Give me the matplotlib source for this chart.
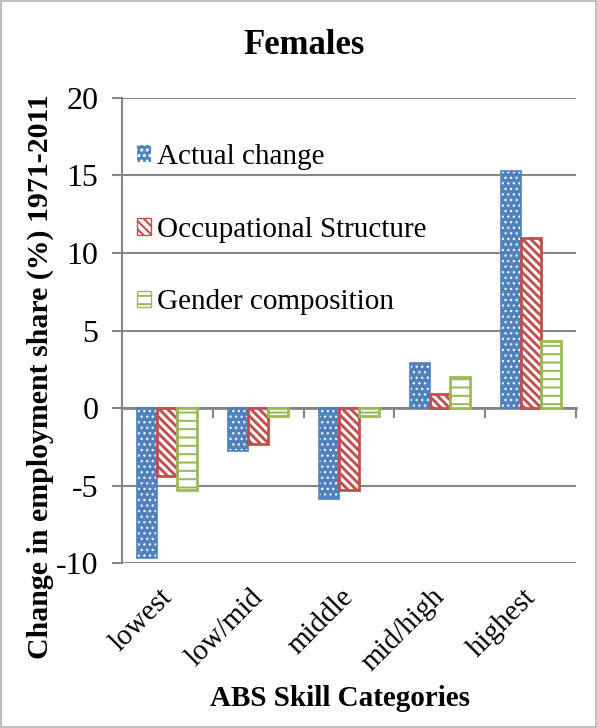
import numpy as np
import matplotlib
matplotlib.use("Agg")
import matplotlib.pyplot as plt
from matplotlib.patches import Patch
from matplotlib.transforms import ScaledTranslation

# ------------------------------------------------------------------ #
#  Data
# ------------------------------------------------------------------ #
categories = ["lowest", "low/mid", "middle", "mid/high", "highest"]
actual_change = [-9.7, -2.8, -5.9, 2.9, 15.3]
occupational_structure = [-4.4, -2.3, -5.3, 0.9, 11.0]
gender_composition = [-5.3, -0.5, -0.5, 2.0, 4.3]
series_names = ["Actual change", "Occupational Structure", "Gender composition"]
y_ticks = [-10, -5, 0, 5, 10, 15, 20]

BLUE = "#4F81BD"
RED = "#C0504D"
GREEN = "#9BBB59"
GRID = "#868686"

plt.rcParams["font.family"] = ["Liberation Serif", "DejaVu Serif"]

fig = plt.figure(figsize=(5.97, 7.28), dpi=100)
fig.patch.set_edgecolor("#BFBFBF")
fig.patch.set_linewidth(1.5)
ax = fig.add_axes([0.2044, 0.2266, 0.7606, 0.6388])

x = np.arange(len(categories))
w = 0.22

# blue: small white dots on blue
plt.rcParams["hatch.linewidth"] = 0.9
ax.bar(x - w, actual_change, w, color=BLUE, edgecolor="white", hatch="...",
       linewidth=0, zorder=3)
blue_handle = Patch(facecolor=BLUE, edgecolor="white", hatch="...", linewidth=0)
ax.bar(x - w, actual_change, w, fill=False, edgecolor=BLUE, linewidth=1.2, zorder=4)

# red: thick diagonal stripes
plt.rcParams["hatch.linewidth"] = 2.1
ax.bar(x, occupational_structure, w, color="white", edgecolor=RED, hatch="\\\\\\\\",
       linewidth=0, zorder=3)
red_handle = Patch(facecolor="white", edgecolor=RED, hatch="\\\\\\\\")
ax.bar(x, occupational_structure, w, fill=False, edgecolor=RED, linewidth=2, zorder=4)

# green: horizontal lines
plt.rcParams["hatch.linewidth"] = 1.5
ax.bar(x + w, gender_composition, w, color="white", edgecolor=GREEN, hatch="--",
       linewidth=0, zorder=3)
green_handle = Patch(facecolor="white", edgecolor=GREEN, hatch="--")
ax.bar(x + w, gender_composition, w, fill=False, edgecolor=GREEN, linewidth=2, zorder=4)

ax.set_xlim(-0.5, len(categories) - 0.5)
ax.set_ylim(-10, 20)
ax.set_yticks(y_ticks)
ax.set_yticklabels([str(t) for t in y_ticks], fontsize=23)
ax.set_xticks(x)
ax.set_xticklabels(categories, fontsize=21, rotation=45, ha="right")
ax.tick_params(axis="x", length=0, pad=15)
ax.tick_params(axis="y", length=7, width=1.5, color=GRID, pad=10)
shift = ScaledTranslation(0.1, 0, fig.dpi_scale_trans)
for lab in ax.get_xticklabels():
    lab.set_transform(lab.get_transform() + shift)

ax.grid(axis="y", color=GRID, linewidth=1.5, zorder=0)
for s in ["top", "right", "bottom"]:
    ax.spines[s].set_visible(False)
ax.spines["left"].set_color(GRID)
ax.spines["left"].set_linewidth(1.5)

# category axis drawn at zero with boundary ticks
zero_axis = ax.secondary_xaxis(1 / 3)
zero_axis.set_xticks(np.arange(-0.5, len(categories), 1.0))
zero_axis.set_xticklabels([])
zero_axis.tick_params(direction="out", length=7, width=1.5, color=GRID)
zero_axis.spines["bottom"].set_color(GRID)
zero_axis.spines["bottom"].set_linewidth(2)
zero_axis.xaxis.set_ticks_position("bottom")

handles = [blue_handle, red_handle, green_handle]
ax.legend(handles, series_names, loc="upper left", bbox_to_anchor=(-0.013, 0.945),
          frameon=False, fontsize=21, labelspacing=1.6, handlelength=0.5,
          handleheight=0.5, handletextpad=0.2, borderaxespad=0.3)

fig.text(0.51, 0.937, "Females", ha="center", va="center", fontsize=25,
         fontweight="bold")
fig.text(0.067, 0.483, "Change in employment share (%) 1971-2011", rotation=90,
         ha="center", va="center", fontsize=21.5, fontweight="bold")
fig.text(0.57, 0.041, "ABS Skill Categories", ha="center", va="center",
         fontsize=21, fontweight="bold")

fig.savefig("out.png", dpi=100)
